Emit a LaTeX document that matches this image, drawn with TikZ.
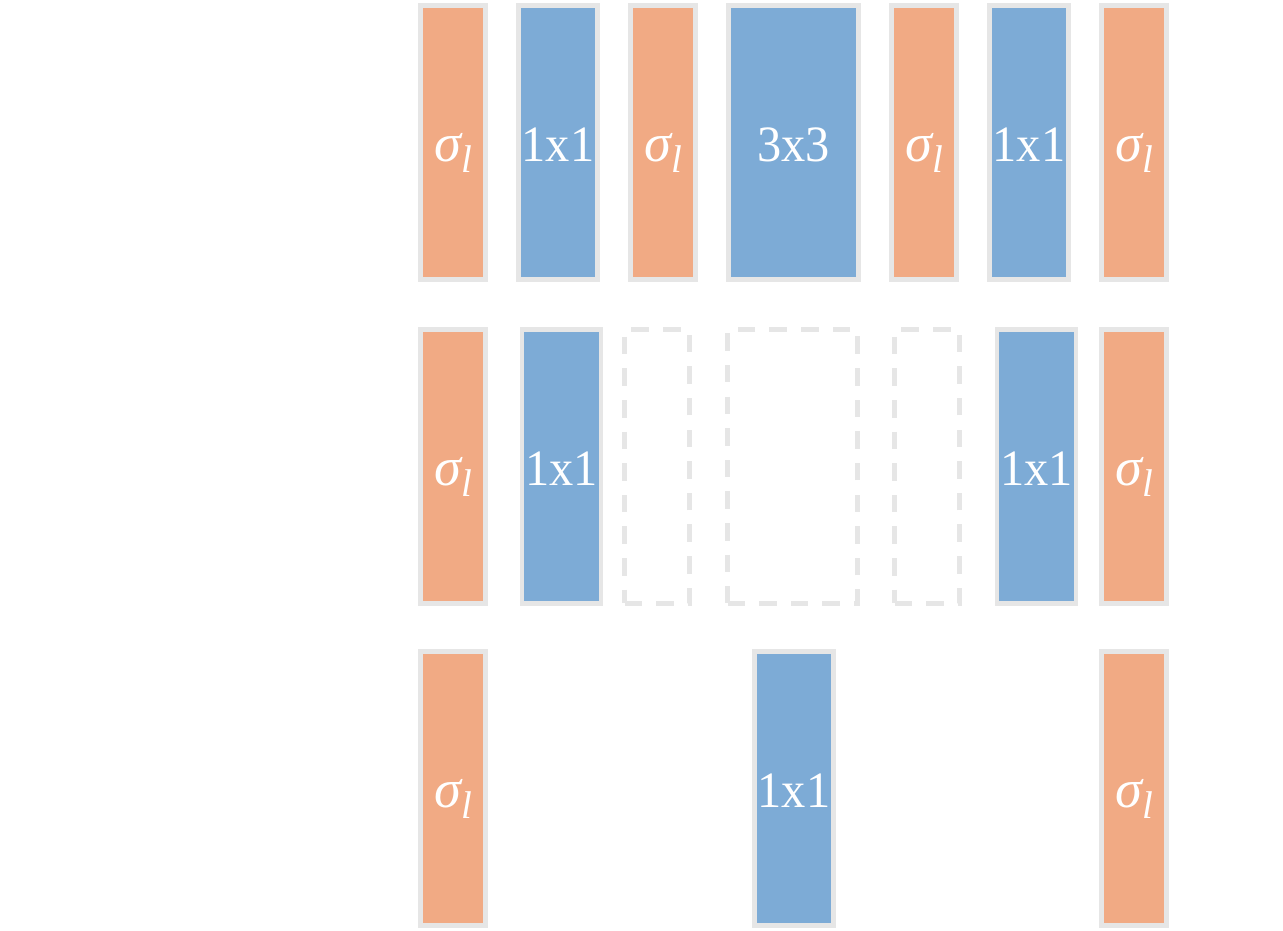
\documentclass[tikz,border=0pt]{standalone}
\usepackage{graphicx}
\usepackage{fontspec}
\setmainfont{Liberation Serif}
\definecolor{sigorange}{HTML}{F1AA84}
\definecolor{convblue}{HTML}{7DABD6}
\definecolor{boxgray}{HTML}{E6E6E6}
\tikzset{
    layer/.style={draw=boxgray, line width=2.8pt, inner sep=0pt, text=white,
        minimum height=5.48cm, text height=0.9cm, text depth=0.14cm,
        font=\fontsize{29}{34}\selectfont},
    sig/.style={layer, fill=sigorange, minimum width=1.3cm},
    conv/.style={layer, fill=convblue, minimum width=1.58cm},
    wide/.style={layer, fill=convblue, minimum width=2.6cm},
    skipped/.style={layer, dash pattern=on 10pt off 8pt}
}
\newcommand{\sigl}{{\fontsize{31}{34}\selectfont\itshape σ}%
    \raisebox{-0.22cm}{\fontsize{22}{24}\selectfont\itshape l}}
\newcommand{\ksize}[1]{\scalebox{0.95}[1]{#1}}
\begin{document}
\begin{tikzpicture}[x=0.02cm,y=-0.02cm]

    \useasboundingbox (0, 0) rectangle (1283, 930);

    % full block
    \node[sig] (a1) at (453, 142.8) {\sigl};
    \node[conv] (a2) at (558, 142.8) {\ksize{1x1}};
    \node[sig] (a3) at (663, 142.8) {\sigl};
    \node[wide] (a4) at (793.5, 142.8) {\ksize{3x3}};
    \node[sig] (a5) at (924, 142.8) {\sigl};
    \node[conv] (a6) at (1029, 142.8) {\ksize{1x1}};
    \node[sig] (a7) at (1134, 142.8) {\sigl};

    % middle layers removed
    \node[sig] (b1) at (453, 466.5) {\sigl};
    \node[conv] (b2) at (561.5, 466.5) {\ksize{1x1}};
    \node[skipped, minimum width=1.3cm] (b3) at (657, 466.5) {};
    \node[skipped, minimum width=2.6cm] (b4) at (792.5, 466.5) {};
    \node[skipped, minimum width=1.3cm] (b5) at (927, 466.5) {};
    \node[conv] (b6) at (1036.5, 466.5) {\ksize{1x1}};
    \node[sig] (b7) at (1134, 466.5) {\sigl};

    % merged
    \node[sig] (c1) at (453, 788.5) {\sigl};
    \node[conv] (c2) at (794, 788.5) {\ksize{1x1}};
    \node[sig] (c3) at (1134, 788.5) {\sigl};

\end{tikzpicture}
\end{document}
